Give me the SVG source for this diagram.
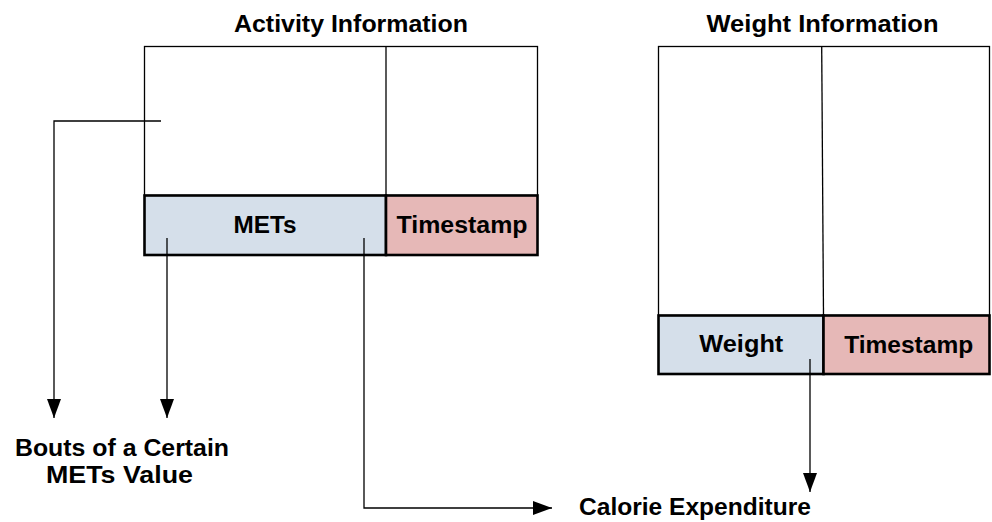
<svg xmlns="http://www.w3.org/2000/svg" width="992" height="522" viewBox="0 0 992 522">
<defs>
<style>
.t{font-family:"Liberation Sans",Arial,sans-serif;font-weight:bold;font-size:23.5px;fill:#000;text-anchor:middle}
.thin{fill:#fff;stroke:#000;stroke-width:1.3}
.cell{stroke:#000;stroke-width:2.6}
.blue{fill:#d5dfea}
.pink{fill:#e6b8b7}
.conn{fill:none;stroke:#000;stroke-width:1.3}
</style>
<marker id="ah" markerUnits="userSpaceOnUse" markerWidth="19" markerHeight="14" refX="19" refY="7" orient="auto">
<path d="M0,0 L19,7 L0,14 z" fill="#000"/>
</marker>
</defs>
<rect width="992" height="522" fill="#fff"/>
<g id="activity">
<rect class="thin" x="144.5" y="46.5" width="393" height="149"/>
<line class="conn" x1="386" y1="46.5" x2="386" y2="195.5"/>
<text class="t" x="351" y="32" textLength="234" lengthAdjust="spacingAndGlyphs">Activity Information</text>
</g>
<g id="mets">
<rect class="cell blue" x="144.5" y="195.5" width="241.5" height="59.5"/>
<text class="t" x="265" y="232.5" textLength="63" lengthAdjust="spacingAndGlyphs">METs</text>
</g>
<g id="activity-timestamp">
<rect class="cell pink" x="386" y="195.5" width="151.5" height="59.5"/>
<text class="t" x="462" y="232.5" textLength="131" lengthAdjust="spacingAndGlyphs">Timestamp</text>
</g>
<g id="weightinfo">
<rect class="thin" x="658.5" y="46.5" width="331" height="269"/>
<line class="conn" x1="821.7" y1="46.5" x2="823.5" y2="315.5"/>
<text class="t" x="822.5" y="32" textLength="232" lengthAdjust="spacingAndGlyphs">Weight Information</text>
</g>
<g id="weight">
<rect class="cell blue" x="658.5" y="315.5" width="165" height="58.5"/>
<text class="t" x="741.3" y="352" textLength="84" lengthAdjust="spacingAndGlyphs">Weight</text>
</g>
<g id="weight-timestamp">
<rect class="cell pink" x="823.5" y="315.5" width="166" height="58.5"/>
<text class="t" x="908.7" y="352.5" textLength="129" lengthAdjust="spacingAndGlyphs">Timestamp</text>
</g>
<g id="bouts">
<text class="t" x="122" y="456" textLength="214" lengthAdjust="spacingAndGlyphs">Bouts of a Certain</text>
<text class="t" x="119.5" y="483" textLength="147" lengthAdjust="spacingAndGlyphs">METs Value</text>
</g>
<g id="calorie">
<text class="t" x="695" y="515" textLength="232" lengthAdjust="spacingAndGlyphs">Calorie Expenditure</text>
</g>
<g id="connectors">
<path class="conn" d="M161,121 H54 V418" marker-end="url(#ah)"/>
<path class="conn" d="M167,238 V418" marker-end="url(#ah)"/>
<path class="conn" d="M364,238 V508 H552" marker-end="url(#ah)"/>
<path class="conn" d="M810,359 V492" marker-end="url(#ah)"/>
</g>
</svg>
